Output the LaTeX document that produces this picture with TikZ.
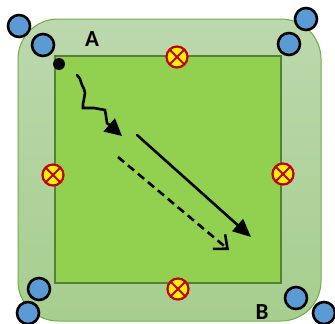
\documentclass[tikz,border=0pt]{standalone}
\usepackage{fontspec}
\setsansfont{Carlito}
\usetikzlibrary{arrows.meta}
\definecolor{fieldgreen}{HTML}{92D050}
\definecolor{fieldline}{HTML}{548235}
\definecolor{bandtop}{HTML}{BCD8AE}
\definecolor{bandbot}{HTML}{A6CE8D}
\definecolor{bandline}{HTML}{70AD47}
\definecolor{playerblue}{HTML}{5B9BD5}
\definecolor{markred}{HTML}{C00000}
\tikzset{
  band/.style={draw=bandline,line width=1pt,top color=bandtop,bottom color=bandbot,
    rounded corners=40pt},
  field/.style={draw=fieldline,fill=fieldgreen,line width=2.2pt},
  player/.style={circle,draw=black,fill=playerblue,line width=2.6pt,
    minimum size=22pt,inner sep=0pt},
  cone/.style={circle,draw=markred,fill=yellow,line width=2.2pt,
    minimum size=21pt,inner sep=0pt,
    path picture={\draw[markred,line width=2pt]
      (path picture bounding box.south west)--(path picture bounding box.north east)
      (path picture bounding box.north west)--(path picture bounding box.south east);}},
  corner label/.style={font=\sffamily\bfseries\fontsize{23}{23}\selectfont,inner sep=0pt},
  run/.style={line width=2.6pt,line cap=round},
}
\begin{document}
\begin{tikzpicture}[x=1pt,y=-1pt]
  \useasboundingbox (0,0) rectangle (335,324);
  % pitch
  \draw[band] (18,19) rectangle (321,321);
  \draw[field] (55,56) rectangle (281,283);
  % players
  \node[player] (p1) at (19,26) {};
  \node[player] (p2) at (43,45) {};
  \node[player] (p3) at (306,19) {};
  \node[player] (p4) at (289,44) {};
  \node[player] (p5) at (39,289) {};
  \node[player] (p6) at (28,313) {};
  \node[player] (p7) at (296,298) {};
  \node[player] (p8) at (324,313) {};
  % cones
  \node[cone] (ct) at (177,57) {};
  \node[cone] (cl) at (53,175) {};
  \node[cone] (cr) at (283,174) {};
  \node[cone] (cb) at (178,289) {};
  % labels
  \node[corner label] (a) at (92,39) {A};
  \node[corner label] (b) at (262,312) {B};
  \fill (59,64) circle (6pt);
  % runs
  \coordinate (w0) at (77,75);
  \coordinate (w1) at (122,136);
  \coordinate (s0) at (137,135);
  \coordinate (s1) at (251,237);
  \coordinate (d0) at (118,157);
  \coordinate (d1) at (229,250);
  \draw[run,-{Triangle[length=17pt,width=17pt]}] (w0)--(80,79)--(82,85)--(84,89)--(85,93)
    --(84,99)--(83,104)--(83,108)--(94,108)--(105,110)--(106,116)--(107,123)--(w1);
  \draw[run,-{Triangle[length=18pt,width=16pt]}] (s0)--(s1);
  \draw[run,dash pattern=on 8pt off 5pt,line cap=butt,
    -{Straight Barb[length=11pt,width=19pt,line width=2.6pt]}] (d0)--(d1);
\end{tikzpicture}
\end{document}
